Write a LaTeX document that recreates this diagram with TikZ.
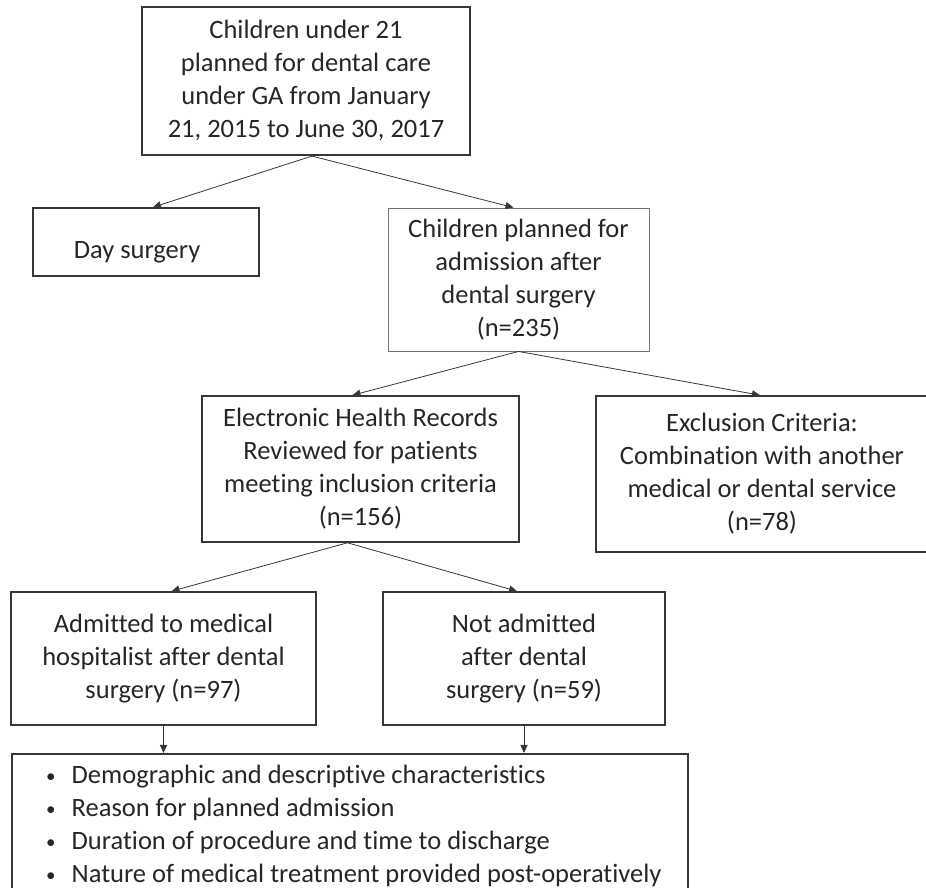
\documentclass[tikz,border=0pt]{standalone}
\usepackage{fontspec}
\setmainfont{Carlito}[Ligatures=NoCommon]
\usetikzlibrary{arrows.meta}
\definecolor{ctext}{RGB}{38,38,38}
\definecolor{cline}{RGB}{55,55,55}
\newcommand{\bul}{\makebox[25.5pt][l]{\raisebox{1.5pt}{\fontsize{19}{19}\selectfont•}}}

\begin{document}
\begin{tikzpicture}[x=1pt,y=1pt,
  txt/.style={text=ctext, inner sep=0pt, font=\fontsize{26.5}{33}\selectfont},
  box/.style={txt, draw=cline, line width=1.6pt, align=center},
  thinbox/.style={box, draw=black!55, line width=0.9pt},
  link/.style={draw=cline, line width=0.8pt, -{Triangle[length=8pt,width=7pt]}}]
  \useasboundingbox (0,0) rectangle (926,888);
  \clip (0,0) rectangle (926,888);
  % first level
  \node[box, line width=2.2pt, minimum width=328, minimum height=148] (start) at (306,807)
    {Children under 21\\planned for dental care\\under GA from January\\21, 2015 to June 30, 2017};
  \node[box, minimum width=226, minimum height=68] (day) at (146,646) {};
  \node[txt] (daytxt) at (137,636) {Day surgery};
  \node[thinbox, minimum width=261, minimum height=143] (plan) at (518.5,608.5)
    {Children planned for\\admission after\\dental surgery\\(n=235)};
  % second level
  \node[box, minimum width=317, minimum height=146] (ehr) at (360.5,419)
    {Electronic Health Records\\Reviewed for patients\\meeting inclusion criteria\\(n=156)};
  \node[box, minimum width=332, minimum height=156] (excl) at (762,414)
    {Exclusion Criteria:\\Combination with another\\medical or dental service\\(n=78)};
  % third level
  \node[box, minimum width=305, minimum height=133] (adm) at (163.5,229.5)
    {Admitted to medical\\hospitalist after dental\\surgery (n=97)};
  \node[box, minimum width=282, minimum height=133] (nadm) at (524,229.5)
    {Not admitted\\after dental\\surgery (n=59)};
  \node[box, minimum width=676, minimum height=160, anchor=north] (list) at (350,135) {};
  \node[txt, align=left, anchor=west] (items) at (46,62)
    {\bul Demographic and descriptive characteristics\\
     \bul Reason for planned admission\\
     \bul Duration of procedure and time to discharge\\
     \bul Nature of medical treatment provided post-operatively};
  % connectors
  \draw[link] ([xshift=6pt]start.south) -- ([xshift=7pt]day.north);
  \draw[link] ([xshift=6pt]start.south) -- ([xshift=-5pt]plan.north);
  \draw[link] (plan.south) -- ([xshift=-8pt]ehr.north);
  \draw[link] (plan.south) -- ([xshift=-2pt]excl.north);
  \draw[link] ([xshift=-13pt]ehr.south) -- ([xshift=8pt]adm.north);
  \draw[link] ([xshift=-13pt]ehr.south) -- ([xshift=-7pt]nadm.north);
  \draw[link] (adm.south) -- (adm.south |- list.north);
  \draw[link] (nadm.south) -- (nadm.south |- list.north);
\end{tikzpicture}
\end{document}
